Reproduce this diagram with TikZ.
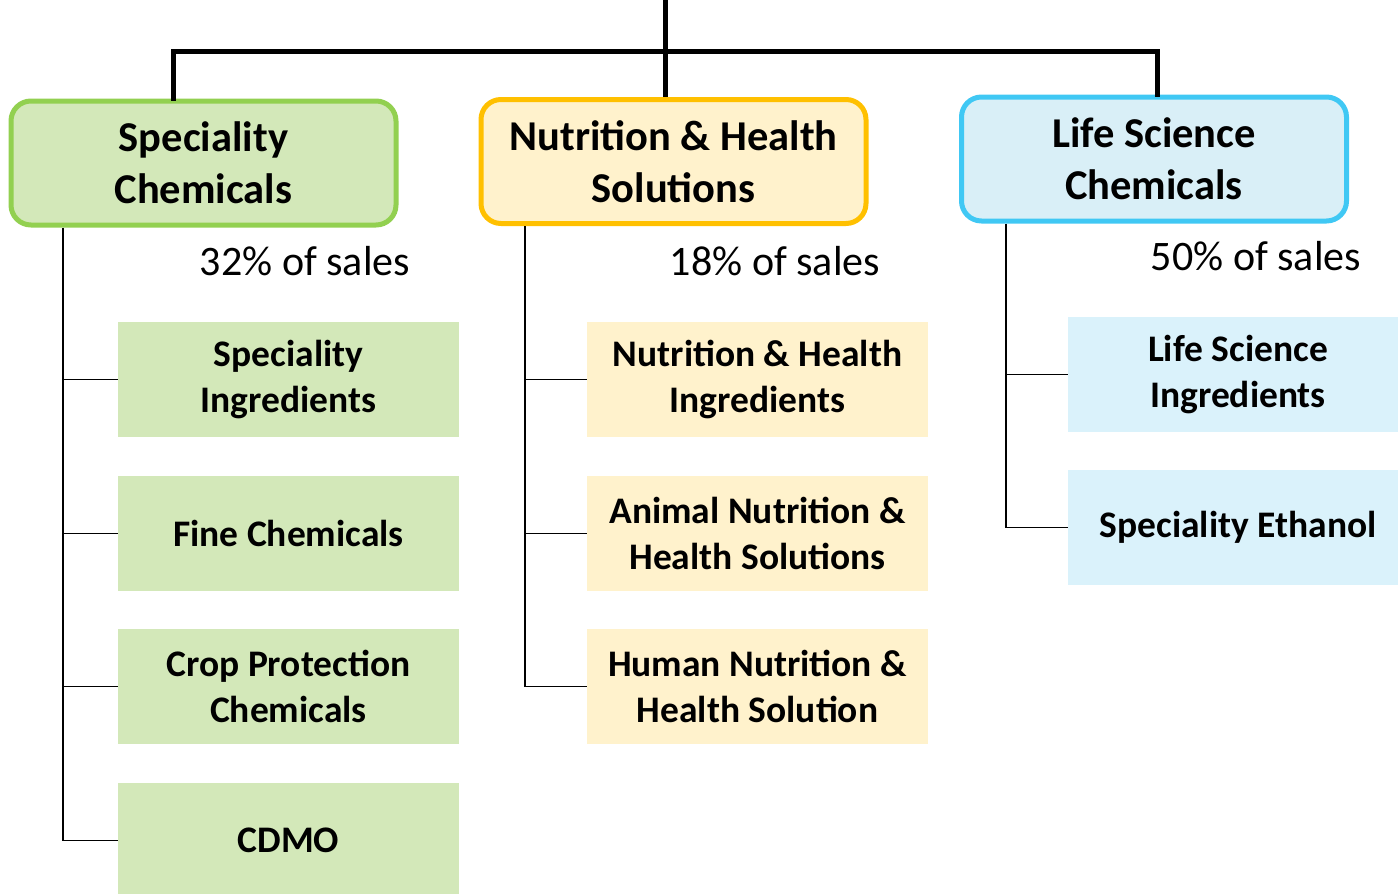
\documentclass[tikz,border=0pt]{standalone}
\usepackage{fontspec}
\setmainfont{Carlito}
\definecolor{gborder}{HTML}{92D050}
\definecolor{gfill}{HTML}{D3E8B9}
\definecolor{yborder}{HTML}{FFC000}
\definecolor{yfill}{HTML}{FFF2CC}
\definecolor{bborder}{HTML}{40C8F4}
\definecolor{bfill}{HTML}{D9EFF7}
\definecolor{bsub}{HTML}{DAF2FB}
\tikzset{
  header/.style={draw, line width=5pt, rounded corners=20pt, minimum width=385pt, minimum height=124pt,
    inner sep=0pt, align=center, font=\fontsize{42.5}{52}\selectfont\bfseries},
  subbox/.style={minimum width=341pt, minimum height=115pt, inner sep=0pt, align=center,
    font=\fontsize{37.5}{46}\selectfont\bfseries},
  pct/.style={inner sep=0pt, font=\fontsize{42}{50}\selectfont},
  trunk/.style={line width=5pt},
  branch/.style={line width=1.6pt}
}
\begin{document}
\begin{tikzpicture}[x=1pt,y=-1pt]
\useasboundingbox (0,0) rectangle (1398,894);
% headers
\node[header, draw=gborder, fill=gfill] (h1) at (203.5,163) {Speciality\\Chemicals};
\node[header, draw=yborder, fill=yfill] (h2) at (673.5,161.5) {Nutrition \& Health\\Solutions};
\node[header, draw=bborder, fill=bfill] (h3) at (1154,159) {Life Science\\Chemicals};
% top connectors
\coordinate (top) at (665,0);
\coordinate (bar) at (665,51);
\draw[trunk] (top) -- (h2.north -| top);
\draw[trunk, line cap=rect] (h1.north -| 173,0) |- (bar) -| (h3.north -| 1157,0);
% percentages
\node[pct] (p1) at (305,261) {32\% of sales};
\node[pct] (p2) at (775,261) {18\% of sales};
\node[pct] (p3) at (1256,256) {50\% of sales};
% green sub boxes
\node[subbox, fill=gfill] (g1) at (288.5,379.5) {Speciality\\Ingredients};
\node[subbox, fill=gfill] (g2) at (288.5,533.5) {Fine Chemicals};
\node[subbox, fill=gfill] (g3) at (288.5,686.5) {Crop Protection\\Chemicals};
\node[subbox, fill=gfill] (g4) at (288.5,840.5) {CDMO};
% yellow sub boxes
\node[subbox, fill=yfill] (y1) at (757.5,379.5) {Nutrition \& Health\\Ingredients};
\node[subbox, fill=yfill] (y2) at (757.5,533.5) {Animal Nutrition \&\\Health Solutions};
\node[subbox, fill=yfill] (y3) at (757.5,686.5) {Human Nutrition \&\\Health Solution};
% blue sub boxes
\node[subbox, fill=bsub, minimum width=340pt] (b1) at (1238,374.5) {Life Science\\Ingredients};
\node[subbox, fill=bsub, minimum width=340pt] (b2) at (1238,527.5) {Speciality Ethanol};
% branches
\draw[branch] (h1.south -| 63,0) |- (g4.west);
\foreach \n in {g1,g2,g3} \draw[branch] (\n.west) -- (\n.west -| 63,0);
\draw[branch] (h2.south -| 525,0) |- (y3.west);
\foreach \n in {y1,y2} \draw[branch] (\n.west) -- (\n.west -| 525,0);
\draw[branch] (h3.south -| 1006,0) |- (b2.west);
\draw[branch] (b1.west) -- (b1.west -| 1006,0);
\end{tikzpicture}
\end{document}
